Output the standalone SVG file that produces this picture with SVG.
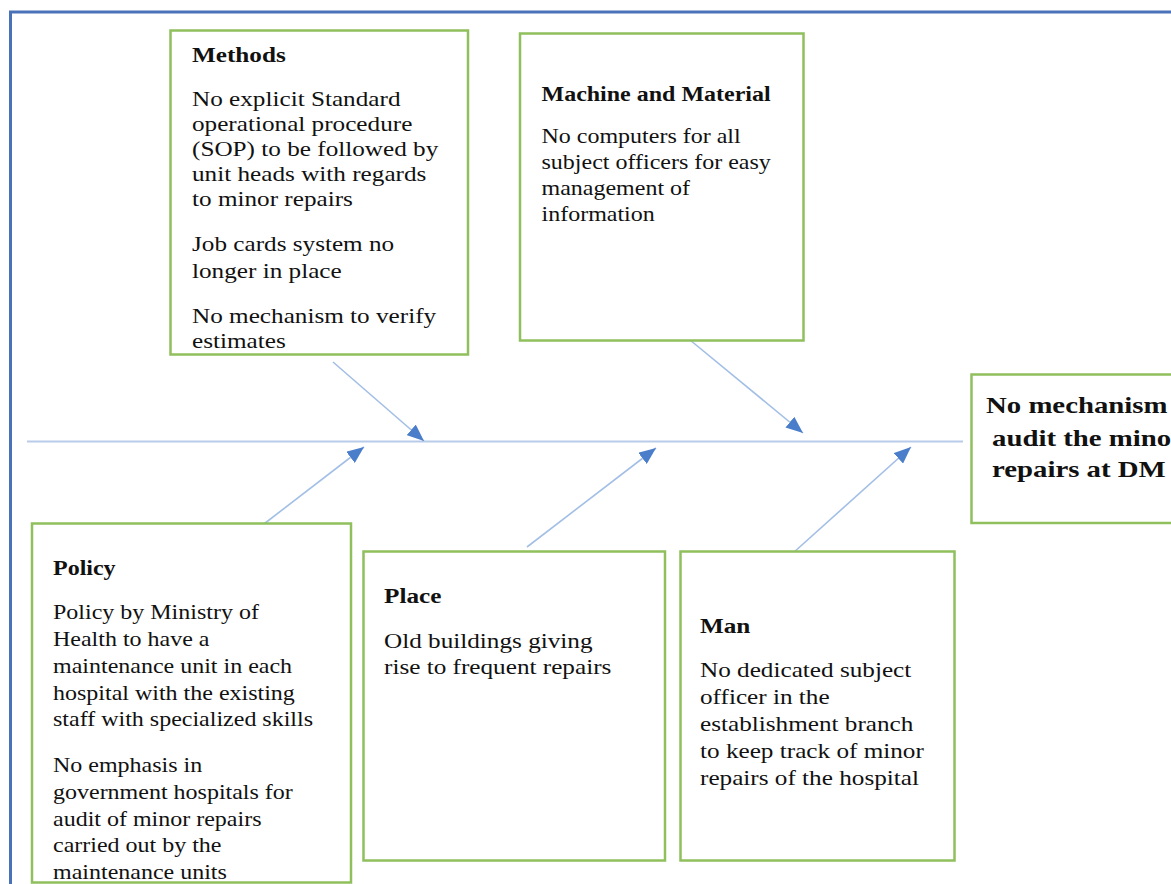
<svg xmlns="http://www.w3.org/2000/svg" width="1171" height="884" viewBox="0 0 1171 884">
<style>
.box{fill:#fff;stroke:#8fc05c;stroke-width:2.5}
.t{font-family:"Liberation Serif","Times New Roman",serif;fill:#111}
.h{font-weight:bold}
.conn{stroke:#a3bfe6;stroke-width:1.6;fill:none}
.spine{stroke:#b8cbe9;stroke-width:2;fill:none}
</style>
<defs>
<marker id="ah" markerUnits="userSpaceOnUse" markerWidth="18" markerHeight="14" refX="17" refY="7" orient="auto">
<path d="M0,0 L17,7 L0,14 z" fill="#4a7ecb"/>
</marker>
</defs>
<rect width="1171" height="884" fill="#fff"/>
<path d="M10.5,884 V12 H1171" fill="none" stroke="#4a72b8" stroke-width="3"/>

<g id="connectors">
<line class="spine" x1="27" y1="441.5" x2="963" y2="441.5"/>
<line class="conn" x1="333" y1="362" x2="424" y2="441" marker-end="url(#ah)"/>
<line class="conn" x1="690" y1="340" x2="803" y2="433" marker-end="url(#ah)"/>
<line class="conn" x1="260" y1="527" x2="364" y2="447" marker-end="url(#ah)"/>
<line class="conn" x1="527" y1="547" x2="656" y2="448" marker-end="url(#ah)"/>
<line class="conn" x1="793" y1="553" x2="911" y2="447" marker-end="url(#ah)"/>
</g>

<g id="methods">
<rect class="box" x="170.5" y="30.5" width="297.5" height="324"/>
<g class="t" font-size="21" transform="translate(192,0) scale(1.2,1)">
<text class="h" x="0" y="61.7">Methods</text>
<text x="0" y="106">No explicit Standard</text>
<text x="0" y="130.7">operational procedure</text>
<text x="0" y="156">(SOP) to be followed by</text>
<text x="0" y="181">unit heads with regards</text>
<text x="0" y="205.7">to minor repairs</text>
<text x="0" y="250.7">Job cards system no</text>
<text x="0" y="277.7">longer in place</text>
<text x="0" y="322.7">No mechanism to verify</text>
<text x="0" y="347.7">estimates</text>
</g>
</g>

<g id="machine">
<rect class="box" x="520" y="33.5" width="283.5" height="307"/>
<g class="t" font-size="20" transform="translate(541.5,0) scale(1.2,1)">
<text class="h" x="0" y="101">Machine and Material</text>
<text x="0" y="143.5">No computers for all</text>
<text x="0" y="169.5">subject officers for easy</text>
<text x="0" y="195.5">management of</text>
<text x="0" y="221.5">information</text>
</g>
</g>

<g id="effect">
<rect class="box" x="971.5" y="374.5" width="210" height="148.5"/>
<g class="t h" font-size="24">
<text transform="translate(986,413) scale(1.2,1)">No mechanism to</text>
<text transform="translate(992,446) scale(1.2,1)">audit the minor</text>
<text transform="translate(992,477) scale(1.2,1)">repairs at DM</text>
</g>
</g>

<g id="policy">
<rect class="box" x="32" y="523.5" width="319" height="359"/>
<g class="t" font-size="20" transform="translate(53,0) scale(1.2,1)">
<text class="h" x="0" y="575">Policy</text>
<text x="0" y="619">Policy by Ministry of</text>
<text x="0" y="646">Health to have a</text>
<text x="0" y="673">maintenance unit in each</text>
<text x="0" y="700">hospital with the existing</text>
<text x="0" y="726">staff with specialized skills</text>
<text x="0" y="772">No emphasis in</text>
<text x="0" y="799">government hospitals for</text>
<text x="0" y="826">audit of minor repairs</text>
<text x="0" y="852">carried out by the</text>
<text x="0" y="879">maintenance units</text>
</g>
</g>

<g id="place">
<rect class="box" x="363.5" y="551.5" width="301.5" height="309"/>
<g class="t" font-size="21" transform="translate(384,0) scale(1.2,1)">
<text class="h" x="0" y="603">Place</text>
<text x="0" y="648">Old buildings giving</text>
<text x="0" y="674">rise to frequent repairs</text>
</g>
</g>

<g id="man">
<rect class="box" x="680.5" y="551.5" width="274" height="309"/>
<g class="t" font-size="21" transform="translate(700,0) scale(1.2,1)">
<text class="h" x="0" y="633">Man</text>
<text x="0" y="677.5">No dedicated subject</text>
<text x="0" y="704.5">officer in the</text>
<text x="0" y="731.5">establishment branch</text>
<text x="0" y="758.5">to keep track of minor</text>
<text x="0" y="785.5">repairs of the hospital</text>
</g>
</g>
</svg>
